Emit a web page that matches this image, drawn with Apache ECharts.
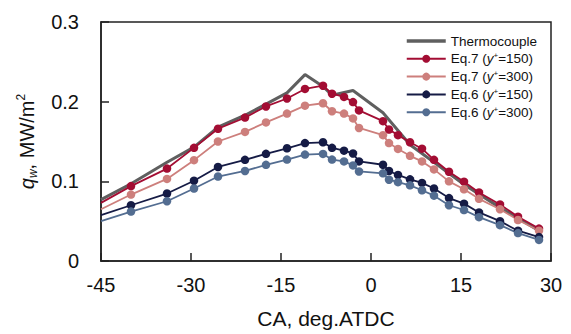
<!DOCTYPE html>
<html>
<head>
<meta charset="utf-8">
<script src="https://cdn.jsdelivr.net/npm/echarts@6/dist/echarts.min.js"></script>
<style>
  html, body { margin: 0; padding: 0; background: #fff; }
  #main { width: 571px; height: 334px; }
</style>
</head>
<body>
<div id="main"></div>
<script>
// crank angle (deg ATDC) of the model points
const ca = [-45, -40, -34, -29.5, -25.5, -21, -17.5, -14, -11, -8, -6.5, -4.5, -3, -2,
  2, 3, 4.5, 6.5, 8.5, 10.5, 13, 15.5, 18, 21.5, 24.5, 28];
const eq7y150 = [0.073, 0.094, 0.116, 0.142, 0.166, 0.180, 0.194, 0.204, 0.216, 0.220, 0.210, 0.206, 0.1995, 0.189,
  0.1755, 0.165, 0.158, 0.149, 0.141, 0.127, 0.112, 0.0996, 0.086, 0.071, 0.0556, 0.0407];
const eq7y300 = [0.065, 0.0834, 0.103, 0.1266, 0.150, 0.162, 0.174, 0.185, 0.195, 0.198, 0.188, 0.185, 0.179, 0.167,
  0.158, 0.148, 0.1407, 0.132, 0.125, 0.115, 0.100, 0.090, 0.078, 0.065, 0.0514, 0.038];
const eq6y150 = [0.0577, 0.070, 0.0847, 0.1008, 0.118, 0.127, 0.1345, 0.1415, 0.148, 0.149, 0.142, 0.1385, 0.135, 0.125,
  0.1208, 0.113, 0.108, 0.1025, 0.098, 0.091, 0.079, 0.072, 0.061, 0.050, 0.038, 0.030];
const eq6y300 = [0.050, 0.062, 0.075, 0.091, 0.106, 0.113, 0.1207, 0.1273, 0.1336, 0.1344, 0.1273, 0.125, 0.120, 0.1124,
  0.110, 0.102, 0.099, 0.095, 0.0888, 0.082, 0.070, 0.064, 0.055, 0.045, 0.035, 0.0265];

// thermocouple trace
const caTc = [-45, -40, -34, -29.5, -25.5, -21, -17.5, -14, -11, -8, -6.5, -3, 2, 6.5, 10.5, 15.5, 21.5, 28];
const tc = [0.077, 0.097, 0.124, 0.143, 0.168, 0.183, 0.197, 0.211, 0.234, 0.219, 0.208, 0.214, 0.186,
  0.146, 0.124, 0.096, 0.067, 0.038];

const xTicks = [-45, -30, -15, 0, 15, 30];
const yTicks = [0, 0.1, 0.2, 0.3];

const FONT = "Liberation Sans, Arial, sans-serif";
const TC_COLOR = "#5f5f5f";

// first point sits on the left frame, no marker there (as in the original)
function pts(xs, ys) {
  return xs.map((x, i) => i === 0 ? { value: [x, ys[i]], symbol: "none" } : [x, ys[i]]);
}

function eqSeries(name, ys, color) {
  return {
    name: name,
    type: "line",
    data: pts(ca, ys),
    symbol: "circle",
    symbolSize: 8.5,
    lineStyle: { color: color, width: 1.8 },
    itemStyle: { color: color },
    z: 3,
  };
}

const legendLabel = {
  "Thermocouple": "Thermocouple",
  "Eq.7 (y+=150)": "Eq.7 ({i|y}{sup|+}=150)",
  "Eq.7 (y+=300)": "Eq.7 ({i|y}{sup|+}=300)",
  "Eq.6 (y+=150)": "Eq.6 ({i|y}{sup|+}=150)",
  "Eq.6 (y+=300)": "Eq.6 ({i|y}{sup|+}=300)",
};

const legendData = Object.keys(legendLabel).map((n) => n === "Thermocouple"
  ? { name: n, itemStyle: { opacity: 0 }, lineStyle: { width: 3.5, color: TC_COLOR } }
  : { name: n, lineStyle: { width: 2 } });

const chart = echarts.init(document.getElementById("main"), null, { renderer: "svg" });
chart.setOption({
  animation: false,
  textStyle: { fontFamily: FONT },
  grid: {
    left: 101, right: 20, top: 22, bottom: 71,
    show: true, borderColor: "#222", borderWidth: 1.5,
  },
  legend: {
    orient: "vertical",
    left: 400,
    top: 29,
    itemWidth: 39,
    itemHeight: 10,
    itemGap: 3.8,
    data: legendData,
    formatter: (n) => legendLabel[n],
    textStyle: {
      fontFamily: FONT, fontSize: 13.5, color: "#111", lineHeight: 14,
      rich: {
        i: { fontFamily: FONT, fontSize: 13.5, fontStyle: "italic", color: "#111", lineHeight: 14 },
        sup: { fontFamily: FONT, fontSize: 8, color: "#111", verticalAlign: "top", lineHeight: 14 },
      },
    },
  },
  xAxis: {
    type: "value",
    min: xTicks[0], max: xTicks[xTicks.length - 1], interval: 15,
    name: "CA, deg.ATDC",
    nameLocation: "middle",
    nameGap: 47,
    nameTextStyle: { fontFamily: FONT, fontSize: 21, color: "#111" },
    axisLine: { onZero: false, lineStyle: { color: "#222", width: 1.5 } },
    axisTick: { inside: true, length: 8, lineStyle: { color: "#222", width: 1.5 } },
    axisLabel: { fontFamily: FONT, fontSize: 20, color: "#111", margin: 14 },
    splitLine: { show: false },
  },
  yAxis: {
    type: "value",
    min: yTicks[0], max: yTicks[yTicks.length - 1], interval: 0.1,
    name: "{i|q}{sub|w}, MW/m{sup|2}",
    nameLocation: "middle",
    nameRotate: 90,
    nameGap: 62,
    nameTextStyle: {
      fontFamily: FONT, fontSize: 20, color: "#111",
      rich: {
        i: { fontFamily: FONT, fontSize: 20, fontStyle: "italic", color: "#111", lineHeight: 24 },
        sub: { fontFamily: FONT, fontSize: 12, fontStyle: "italic", color: "#111", verticalAlign: "bottom", lineHeight: 24 },
        sup: { fontFamily: FONT, fontSize: 12, color: "#111", verticalAlign: "top", lineHeight: 24 },
      },
    },
    axisLine: { show: true, onZero: false, lineStyle: { color: "#222", width: 1.5 } },
    axisTick: { show: true, inside: true, length: 8, lineStyle: { color: "#222", width: 1.5 } },
    axisLabel: { fontFamily: FONT, fontSize: 20, color: "#111", margin: 22,
      formatter: (v) => String(Math.round(v * 10) / 10) },
    splitLine: { show: false },
  },
  series: [
    {
      name: "Thermocouple",
      type: "line",
      data: caTc.map((x, i) => [x, tc[i]]),
      symbol: "none",
      lineStyle: { color: TC_COLOR, width: 3 },
      itemStyle: { color: TC_COLOR },
      z: 2,
    },
    eqSeries("Eq.7 (y+=150)", eq7y150, "#a30d33"),
    eqSeries("Eq.7 (y+=300)", eq7y300, "#cd7f7c"),
    eqSeries("Eq.6 (y+=150)", eq6y150, "#151b45"),
    eqSeries("Eq.6 (y+=300)", eq6y300, "#536d91"),
  ],
});

window.onresize = chart.resize;
</script>
</body>
</html>
